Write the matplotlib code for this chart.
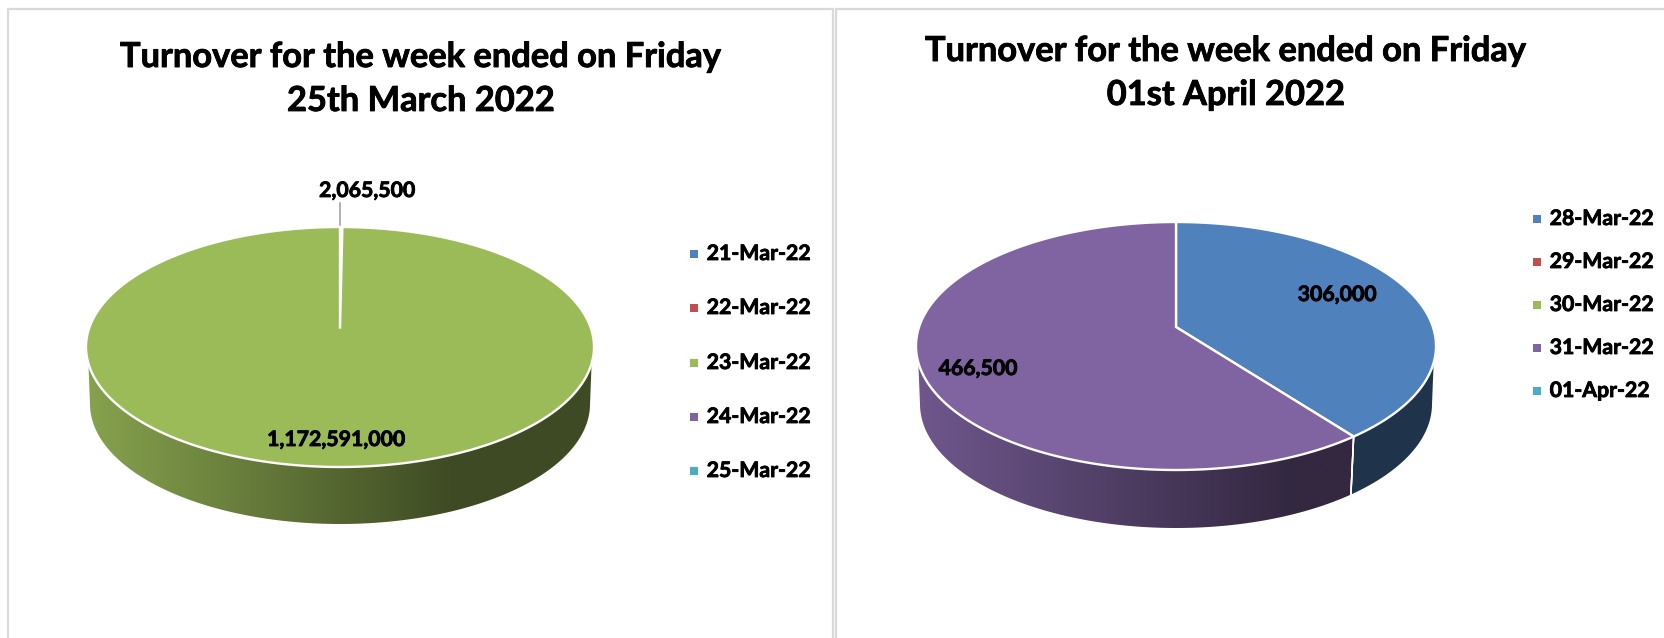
import numpy as np
import matplotlib
matplotlib.use('Agg')
import matplotlib.pyplot as plt
import matplotlib.patheffects as pe
from matplotlib.patches import Polygon, Rectangle

plt.rcParams['font.family'] = ['Lato', 'DejaVu Sans']

# Данные
dates_left = ['21-Mar-22', '22-Mar-22', '23-Mar-22', '24-Mar-22', '25-Mar-22']
values_left = [0, 2065500, 1172591000, 0, 0]
dates_right = ['28-Mar-22', '29-Mar-22', '30-Mar-22', '31-Mar-22', '01-Apr-22']
values_right = [306000, 0, 0, 466500, 0]
colors = ['#4F81BD', '#C0504D', '#9BBB59', '#8064A2', '#4BACC6']
title_left = 'Turnover for the week ended on Friday\n25th March 2022'
title_right = 'Turnover for the week ended on Friday\n01st April 2022'

W, H = 1664, 638
BORDER = '#D9D9D9'
PERSP = 0.153  # смещение центра диска из-за перспективы
BOLD = [pe.withStroke(linewidth=0.6, foreground='black')]


# Угол на диске (по часовой от верха) -> нормированная точка на эллипсе
def project(theta):
    x = np.sin(theta)
    y = np.cos(theta)
    d = 1 + PERSP * y
    return x * np.sqrt(1 - PERSP ** 2) / d, (y + PERSP) / d


# Рисуем псевдо-3D круговую диаграмму
def draw_pie(ax, values, cx, cy, rx, ry, drop, rx_low):
    vals = np.array(values, dtype=float)
    edges = np.concatenate([[0], np.cumsum(vals)]) / vals.sum() * 2 * np.pi

    def rim(theta, low=False):
        px, py = project(theta)
        if low:
            return cx + rx_low * px, cy + drop - ry * py
        return cx + rx * px, cy - ry * py

    grad = np.interp(np.linspace(0, 1, 400), [0, 0.72, 1], [0.87, 0.40, 0.40])
    left, right = cx - rx, cx + rx

    # боковая поверхность
    for i in range(len(vals)):
        if vals[i] == 0:
            continue
        th = np.linspace(edges[i], edges[i + 1], 500)
        _, py = project(th)
        xt, yt = rim(th[py <= -0.13])
        xb, yb = rim(th[py <= 0], low=True)
        if len(xb) == 0:
            continue
        poly = Polygon(np.column_stack([np.r_[xt, xb[::-1]], np.r_[yt, yb[::-1]]]),
                       closed=True, fc='none', ec='none', transform=ax.transData)
        ax.add_patch(poly)
        rgb = np.array(matplotlib.colors.to_rgb(colors[i]))
        img = ax.imshow(grad[None, :, None] * rgb, extent=[left, right, cy + drop + ry + 2, cy - 5],
                        aspect='auto', interpolation='bilinear', zorder=2)
        img.set_clip_path(poly)

    # границы секторов на боковой поверхности
    for e in edges[1:-1]:
        if project(e)[1] < 0:
            xt, yt = rim(e)
            xb, yb = rim(e, low=True)
            ax.plot([xt, xb], [yt, yb], color='white', lw=1.1, zorder=3)

    # верхняя грань
    apex = (cx, cy - ry * PERSP)
    for i in range(len(vals)):
        if vals[i] == 0:
            continue
        th = np.linspace(edges[i], edges[i + 1], 500)
        xs, ys = rim(th)
        pts = np.column_stack([np.r_[apex[0], xs], np.r_[apex[1], ys]])
        ax.add_patch(Polygon(pts, closed=True, fc=colors[i], ec='white', lw=1.7,
                             joinstyle='miter', zorder=4))


# Легенда: квадратик и подпись
def draw_legend(ax, dates, x, ys):
    for i in range(len(dates)):
        ax.add_patch(Rectangle((x, ys[i] - 4), 8, 8, fc=colors[i], ec='none', zorder=5))
        ax.text(x + 16.7, ys[i], dates[i], fontsize=15.3, fontweight='bold', color='black',
                va='center', ha='left', zorder=6, path_effects=BOLD)


fig = plt.figure(figsize=(W / 100, H / 100), dpi=100)
ax = fig.add_axes([0, 0, 1, 1])

# рамки панелей
ax.add_patch(Rectangle((8, 9), 825, 640, fc='white', ec=BORDER, lw=1.6, zorder=1))
ax.add_patch(Rectangle((836, 9), 840, 640, fc='white', ec=BORDER, lw=1.6, zorder=1))

draw_pie(ax, values_left, 340, 347, 254, 120, 57, 250)
draw_pie(ax, values_right, 1176, 346, 260, 124, 58, 256)

# заголовки
ax.text(421, 79, title_left, fontsize=24.8, fontweight='bold', color='black',
        ha='center', va='center', linespacing=1.46, zorder=6, path_effects=BOLD)
ax.text(1226, 73, title_right, fontsize=24.8, fontweight='bold', color='black',
        ha='center', va='center', linespacing=1.46, zorder=6, path_effects=BOLD)

# подписи значений
ax.plot([340, 340], [203, 228], color='#A6A6A6', lw=1.2, zorder=3)
lab = dict(fontsize=15.3, fontweight='bold', color='black', ha='center', va='center',
           zorder=6, path_effects=BOLD)
ax.text(367, 191, f'{values_left[1]:,}', **lab)
ax.text(336, 440, f'{values_left[2]:,}', **lab)
ax.text(1337, 295, f'{values_right[0]:,}', **lab)
ax.text(978, 369, f'{values_right[3]:,}', **lab)

draw_legend(ax, dates_left, 690, [254, 308, 363, 417, 471])
draw_legend(ax, dates_right, 1533, [219, 262, 305, 348, 391])

ax.set_xlim(0, W)
ax.set_ylim(H, 0)
ax.axis('off')
fig.savefig('out.png', dpi=100, facecolor='white')
